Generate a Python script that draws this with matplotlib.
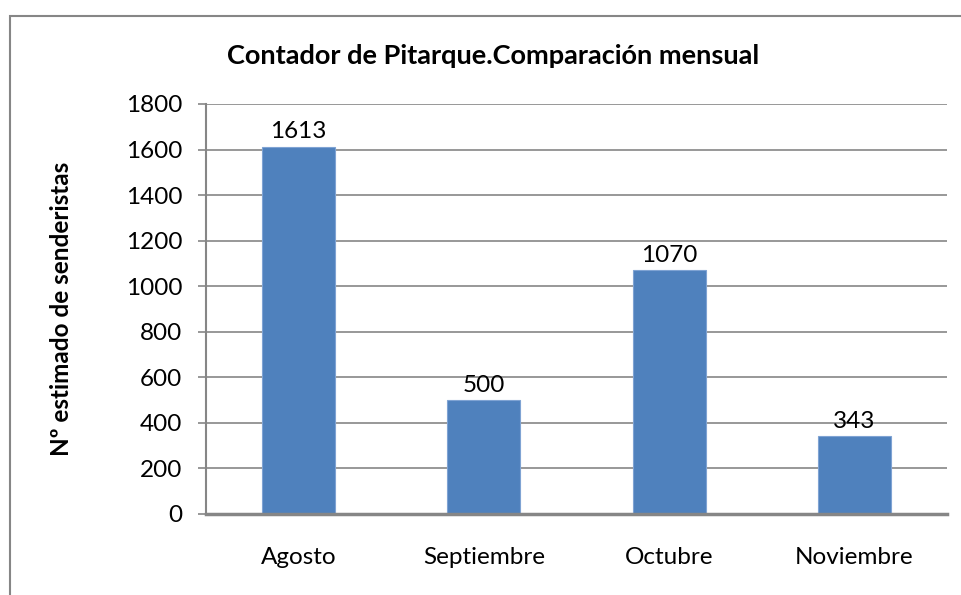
import matplotlib.pyplot as plt
from matplotlib.patches import Rectangle

# --- datos ---
meses = ['Agosto', 'Septiembre', 'Octubre', 'Noviembre']
senderistas = [1613, 500, 1070, 343]
y_ticks = [0, 200, 400, 600, 800, 1000, 1200, 1400, 1600, 1800]

plt.rcParams['font.family'] = ['Lato', 'DejaVu Sans']

fig = plt.figure(figsize=(9.62, 5.95), dpi=100)
ax = fig.add_axes([206 / 962, 81 / 595, 741 / 962, 410 / 595])

gris = '#868686'
azul = '#4F81BD'
fs = 17.5

# marco del gráfico (sólo se ven los bordes izquierdo y superior)
fig.patches.append(Rectangle((10 / 962, -0.1), 1.2, (595 - 16) / 595 + 0.1,
                             transform=fig.transFigure, fill=False,
                             edgecolor=gris, lw=1.5))

x = range(len(meses))
barras = ax.bar(x, senderistas, width=0.395, color=azul,
                edgecolor='#7FA3D3', linewidth=0.8, zorder=3)

for b, v in zip(barras, senderistas):
    ax.annotate(str(v), (b.get_x() + b.get_width() / 2, v),
                xytext=(0, 3), textcoords='offset points',
                ha='center', va='bottom', fontsize=fs, zorder=4)

ax.set_xlim(-0.5, len(meses) - 0.5)
ax.set_ylim(0, 1800)
ax.set_yticks(y_ticks)
ax.set_xticks(list(x))
ax.set_xticklabels(meses)
ax.grid(axis='y', color=gris, lw=1.2, zorder=0)

for s in ['top', 'right']:
    ax.spines[s].set_visible(False)
ax.spines['left'].set_color(gris)
ax.spines['left'].set_linewidth(1.5)
ax.spines['bottom'].set_color(gris)
ax.spines['bottom'].set_linewidth(2.5)
ax.spines['bottom'].set_zorder(5)

ax.tick_params(axis='y', length=6, width=1.2, color=gris, labelsize=fs, pad=11)
ax.tick_params(axis='x', length=0, labelsize=fs, pad=24)

ax.set_ylabel('Nº estimado de senderistas', fontsize=fs, fontweight='bold')
ax.yaxis.set_label_coords(-0.18, 0.5)

fig.text(493 / 962, 1 - 56 / 595, 'Contador de Pitarque.Comparación mensual',
         ha='center', va='center', fontsize=19.5, fontweight='bold')

fig.savefig('out.png', dpi=100)
